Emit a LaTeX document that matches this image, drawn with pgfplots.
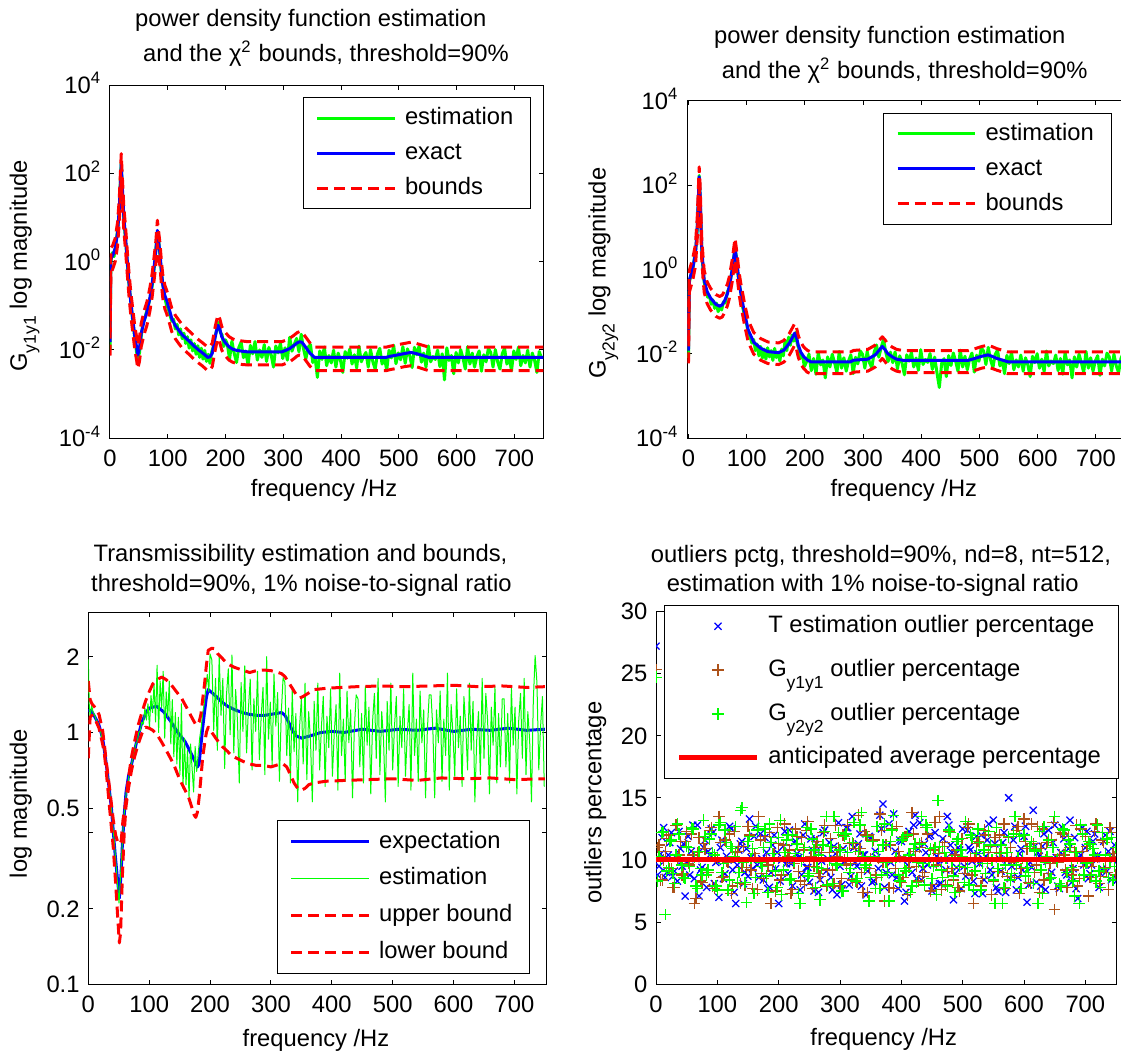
\documentclass[border=0pt]{standalone}
\usepackage{pgfplots}
\pgfplotsset{compat=1.18}
\usepackage{pgfplotstable}
\usepackage{fontspec}
\setmainfont{Liberation Sans}
\definecolor{mgreen}{rgb}{0,1,0}
\definecolor{mblue}{rgb}{0,0,1}
\definecolor{mred}{rgb}{1,0,0}
\definecolor{mbrown}{rgb}{0.68,0.32,0.1}
\newcommand{\fs}{\fontsize{9.5}{11}\selectfont}
\newcommand{\Gsub}[2][3.6pt]{G\raisebox{-#1}{\fontsize{7}{8}\selectfont #2}}

\pgfplotsset{
  mstyle/.style={
    scale only axis,
    tick align=inside, tick pos=both,
    major tick length=1.8pt, minor tick length=0pt,
    axis line style={line width=0.4pt},
    every tick/.append style={black,line width=0.4pt},
    tick label style={font=\fs, inner sep=0pt},
    xticklabel style={anchor=base, yshift=-11.4pt},
    yticklabel style={anchor=base east, xshift=-3.3pt, yshift=-3.4pt},
    /pgf/number format/assume math mode=true,
    label style={font=\fs, inner sep=0pt},
    xlabel={frequency /Hz},
    xtick={0,100,...,700},
    legend cell align=left,
    legend image code/.code={\draw[mark repeat=2,mark phase=2,##1] plot coordinates {(0pt,0pt) (15.5pt,0pt) (31pt,0pt)};},
    legend style={font=\fs, draw=black, line width=0.4pt, fill=white, inner xsep=5pt, inner ysep=1.8pt, row sep=1pt, column sep=1.6pt, nodes={inner sep=2pt, text height=7pt, text depth=2pt}},
  },
  gline/.style={mgreen, line width=1.2pt, line join=round},
  bline/.style={mblue, line width=1.2pt, line join=round},
  rline/.style={mred, line width=1.2pt, line join=round, dash pattern=on 4.4pt off 2.4pt},
  tmark/.style={only marks, mark=x, mark size=2pt, mblue, mark options={line width=0.5pt}},
  g1mark/.style={only marks, mark=+, mark size=2.3pt, mbrown, mark options={line width=0.5pt}},
  g2mark/.style={only marks, mark=+, mark size=2.3pt, mgreen, mark options={line width=0.55pt}},
}

\pgfplotstableread{
f ex up lo
0 0.015 0.025 0.0075
1.5 1.17 2.0 0.55
5 1.4 2.38 0.7
9 2.0 3.4 1.0
13 4.5 7.65 2.25
16 15 25.5 7.5
18 60 102 30
19.5 164 279 82
21 60 102 30
24 10 17 5
27 3.5 5.95 1.75
30 1.0 1.7 0.5
33 0.32 0.544 0.16
36 0.12 0.204 0.06
39 0.056 0.095 0.028
43 0.02 0.034 0.01
46 0.0118 0.02 0.0059
48 0.0076 0.0129 0.0038
51 0.011 0.0187 0.0055
54 0.0236 0.04 0.0118
59 0.045 0.0765 0.0225
64 0.073 0.124 0.0365
69 0.15 0.255 0.075
73 0.32 0.544 0.16
77 0.9 1.53 0.45
79.5 1.8 3.06 0.9
82 5.1 8.67 2.55
84 3.0 5.1 1.5
86.6 1.5 2.55 0.75
89 0.6 1.02 0.3
91.5 0.29 0.493 0.145
95 0.17 0.289 0.085
98 0.134 0.228 0.067
103 0.08 0.136 0.04
107 0.0515 0.0876 0.0258
113 0.036 0.0612 0.018
119 0.028 0.0476 0.014
125 0.022 0.0374 0.011
132 0.0182 0.0309 0.0091
140 0.0145 0.0247 0.0073
147 0.0118 0.0201 0.0059
153 0.0101 0.0172 0.0051
159.5 0.0087 0.0148 0.0044
165 0.0076 0.0129 0.0038
169 0.0068 0.0116 0.0034
173 0.0070 0.0119 0.0035
177 0.0084 0.0143 0.0042
181 0.0167 0.0284 0.0084
184 0.026 0.0442 0.013
187 0.0364 0.0619 0.0182
190 0.030 0.051 0.015
193.5 0.0198 0.0337 0.0099
199 0.0150 0.0255 0.0075
206 0.0118 0.0201 0.0059
212 0.0105 0.0179 0.0053
218 0.0099 0.0168 0.005
228 0.0094 0.016 0.0047
237 0.0091 0.0155 0.0046
298 0.0091 0.0155 0.0046
305 0.0099 0.0168 0.005
311 0.0108 0.0184 0.0054
318 0.0125 0.0213 0.0063
324 0.0145 0.0247 0.0073
328 0.0153 0.026 0.0077
332 0.0150 0.0255 0.0075
336 0.0129 0.0219 0.0065
341 0.0105 0.0179 0.0053
346 0.0085 0.0145 0.0043
350 0.0076 0.0129 0.0038
354 0.0068 0.0116 0.0034
478 0.0068 0.0116 0.0034
485 0.0072 0.0122 0.0036
495 0.0076 0.0129 0.0038
510 0.0083 0.0141 0.0042
521 0.0088 0.015 0.0044
530 0.0083 0.0141 0.0042
540 0.0076 0.0129 0.0038
552 0.0068 0.0116 0.0034
750 0.0068 0.0116 0.0034
}\TLex

\pgfplotstableread{
f g
0 0.01
1.5 1.0
4 1.6
7 1.3
10 2.5
13 5
16 13
18 70
19.5 180
21 50
24 9
27 3
30 0.9
33 0.3
36 0.13
39 0.05
43 0.018
46 0.009
48 0.0065
51 0.0085
54 0.02
57 0.04
60 0.05
64 0.08
69 0.14
73 0.28
77 0.8
79.5 2.0
82 4.8
84 3.4
86.6 1.3
89 0.55
91.5 0.3
95 0.15
98 0.1
101 0.085
104 0.06
107 0.045
110 0.05
113 0.03
116 0.038
119 0.022
122 0.03
125 0.018
128 0.024
131 0.014
134 0.02
137 0.011
140 0.017
143 0.0095
146 0.014
149 0.008
152 0.0125
155 0.0068
158 0.011
161 0.0062
164 0.0098
167 0.0055
170 0.008
173 0.005
176 0.009
179 0.012
182 0.02
185 0.03
188 0.042
191 0.025
194 0.022
197 0.012
200 0.017
203 0.0137
}\TLg

\pgfplotstableread{
f ex up lo
0 0.012 0.02 0.006
1.5 0.56 0.95 0.29
7.4 1.1 1.87 0.57
12 2.3 3.9 1.2
15 10 17 5.2
17 50 85 26
18.4 158 270 82
20 60 102 31
22.7 3.5 6 1.8
25 1.2 2.04 0.62
27 0.56 0.95 0.29
32 0.30 0.51 0.156
38 0.21 0.357 0.109
47 0.15 0.255 0.078
53.5 0.135 0.23 0.07
58 0.145 0.247 0.075
62.7 0.19 0.323 0.099
67 0.27 0.46 0.14
70 0.39 0.66 0.2
75 0.97 1.65 0.5
78 2.0 3.4 1.04
80 3.2 5.44 1.66
82 2.0 3.4 1.04
84 1.17 1.99 0.61
87 0.5 0.85 0.26
90 0.27 0.46 0.14
96.5 0.09 0.153 0.047
102.6 0.037 0.063 0.0192
112 0.019 0.0323 0.0099
124 0.0136 0.0231 0.0071
136.5 0.0113 0.0192 0.0059
155 0.0107 0.0182 0.0056
164 0.0123 0.0209 0.0064
173 0.0177 0.0301 0.0092
179 0.025 0.0425 0.013
182.5 0.031 0.0527 0.0161
185.5 0.025 0.0425 0.013
188.7 0.016 0.0272 0.0083
193 0.011 0.0187 0.0057
198 0.0086 0.0146 0.0045
204 0.0072 0.0122 0.0037
210 0.0065 0.0111 0.0034
278 0.0065 0.0111 0.0034
284 0.0071 0.0121 0.0037
308 0.0075 0.0128 0.0039
321 0.0095 0.0162 0.0049
327 0.012 0.0204 0.0062
333 0.015 0.0255 0.0078
338 0.0125 0.0213 0.0065
342 0.0103 0.0175 0.0054
350 0.0085 0.0145 0.0044
357.6 0.0075 0.0128 0.0039
370 0.007 0.0119 0.0036
480 0.007 0.0119 0.0036
493 0.0079 0.0134 0.0041
504 0.0088 0.015 0.0046
514.6 0.0095 0.0162 0.0049
522 0.0087 0.0148 0.0045
530 0.0078 0.0133 0.0041
549 0.0065 0.0111 0.0034
750 0.0065 0.0111 0.0034
}\TRex

\pgfplotstableread{
f g
0 0.008
1.5 0.5
4 0.7
7 0.9
10 1.8
13 3.5
15 9
17 45
18.4 170
20 55
22.7 3.2
25 1.0
27 0.5
30 0.33
33 0.22
36 0.24
39 0.15
42 0.19
45 0.12
48 0.16
51 0.1
54 0.14
57 0.11
60 0.17
63 0.16
67 0.3
70 0.35
75 1.0
78 2.1
80 3.0
82 2.2
84 1.0
87 0.45
90 0.3
93 0.13
96.5 0.08
100 0.05
103 0.03
106 0.025
109 0.018
112 0.022
115 0.012
118 0.017
121 0.009
124 0.015
127 0.008
130 0.013
133 0.0075
136 0.014
139 0.0085
142 0.012
145 0.007
148 0.0135
151 0.0082
154 0.011
157 0.0068
160 0.013
163 0.009
166 0.021
169 0.012
172 0.025
175 0.016
178 0.028
181 0.02
184 0.032
187 0.017
190 0.013
193 0.008
196 0.0095
199 0.005
203 0.0065
}\TRg

\pgfplotstableread{
f ex
0 1.22
5 1.22
11.8 1.14
17 1.08
23.5 0.95
28 0.8
32 0.67
38 0.5
44 0.33
48 0.26
51 0.22
54 0.28
56 0.36
59 0.47
62 0.58
66 0.67
70.6 0.74
79.4 0.92
88 1.1
95 1.2
100 1.25
112 1.27
123.5 1.21
135 1.11
147 1.0
159 0.92
170.6 0.81
179.4 0.73
182 0.75
185 0.89
188 1.05
191 1.21
194 1.38
197 1.48
206 1.42
218 1.33
229 1.27
241 1.23
253 1.2
265 1.18
276 1.17
290 1.17
300 1.18
317.6 1.2
323 1.17
329 1.1
335 1.02
341 0.97
350 0.95
358 0.96
365 0.97
382 1.0
400 1.01
420 1.0
450 1.03
480 1.01
510 1.03
540 1.02
570 1.04
600 1.01
630 1.03
660 1.02
690 1.04
720 1.02
750 1.03
}\BLex

\pgfplotstableread{
f up
0 1.6
3 1.35
6 1.3
11.8 1.25
17.6 1.18
23.5 1.02
26.5 0.89
30 0.75
35 0.6
41 0.45
45 0.39
48 0.37
51 0.36
54 0.37
57 0.45
62 0.54
66 0.66
70.6 0.79
76 0.92
82 1.07
88 1.2
94 1.33
100 1.45
106 1.56
113 1.62
120.6 1.66
128 1.62
135 1.56
144 1.46
153 1.37
162 1.25
170.6 1.14
176 1.08
179 1.07
182 1.1
185 1.18
188 1.36
191 1.56
194 1.85
197 2.12
203 2.16
208 2.15
212 2.06
220 1.97
229 1.87
241 1.81
253 1.77
265 1.73
276 1.76
288 1.77
300 1.76
312 1.73
318 1.71
323.5 1.66
329 1.58
335 1.5
341 1.42
347 1.37
353 1.39
359 1.42
365 1.45
370.6 1.48
394 1.5
441 1.52
480 1.53
520 1.52
560 1.53
600 1.54
640 1.52
680 1.53
720 1.51
750 1.52
}\BLup

\pgfplotstableread{
f lo
0 0.79
3 1.15
6 1.17
11.8 1.12
17.6 1.04
23.5 0.9
26.5 0.82
30 0.68
35 0.5
41 0.35
45 0.25
48 0.19
51 0.146
53 0.16
56 0.27
59 0.4
62 0.51
66 0.6
70.6 0.7
76 0.8
82 0.9
88 0.99
94 1.05
100 1.04
106 1.02
113 0.98
120 0.92
128 0.85
135 0.79
141 0.74
147 0.68
153 0.63
159 0.59
165 0.55
170.6 0.5
174 0.47
176.5 0.46
179 0.48
182 0.55
185 0.66
188 0.8
191 0.9
194 1.0
197 1.05
203 1.0
212 0.93
220 0.88
229 0.84
235 0.81
253 0.77
265 0.75
276 0.74
288 0.74
300 0.73
312 0.745
320 0.75
326 0.73
332 0.68
338 0.63
344 0.6
350 0.59
356 0.6
362 0.62
370 0.63
390 0.64
420 0.645
460 0.65
500 0.655
540 0.645
580 0.66
620 0.655
660 0.66
700 0.65
750 0.655
}\BLlo

\pgfplotstableread{
f g
0 1.95
1.5 1.3
3 1.15
5.5 1.28
8 1.2
10.5 1.17
13 1.12
15.5 1.1
18 1.05
20.5 1.0
23 0.93
25.5 0.87
28 0.8
30.5 0.72
33 0.64
35.5 0.57
38 0.5
40.5 0.42
43 0.36
45.5 0.3
48 0.25
50.5 0.21
53 0.27
55.5 0.35
58 0.45
60.5 0.52
63 0.6
65.5 0.64
68 0.7
70.5 0.73
73 0.8
75.5 0.84
78 0.9
80.5 0.92
83 1.0
85.5 1.02
88 1.1
90.5 1.08
93 1.25
95.5 1.12
98 1.3
100.5 1.05
103 1.4
105.5 1.2
108 1.55
110.5 1.1
113 1.85
115.5 1.0
118 1.6
120.5 1.25
123 1.75
125.5 0.95
128 1.45
130.5 1.15
133 1.6
135.5 0.9
138 1.35
140.5 0.8
143 1.2
145.5 0.75
148 1.15
150.5 0.68
153 1.3
155.5 0.6
158 0.95
160.5 0.62
163 0.85
165.5 0.55
168 0.9
170.5 0.72
173 0.58
175.5 0.88
178 0.7
180.5 0.82
183 0.95
185.5 1.05
188 1.2
190.5 1.3
193 1.5
195.5 1.7
198 1.45
200 2.05
203 1.94
}\BLg

\begin{document}
\begin{tikzpicture}
\useasboundingbox (0,0) rectangle (448.4pt,421.2pt);

%% ---------------- top left ----------------
\begin{axis}[mstyle, at={(44pt,245.88pt)}, anchor=south west,
  width=173.32pt, height=141.32pt,
  xmin=0, xmax=750, ymode=log, ymin=1e-4, ymax=1e4, yminorticks=false,
  ytick={1e-4,1e-2,1,1e2,1e4},
  yticklabels={10\textsuperscript{-4},10\textsuperscript{-2},10\textsuperscript{0},10\textsuperscript{2},10\textsuperscript{4}},
  xlabel style={at={(axis description cs:0.494,-0.1633)}, anchor=base},
  ylabel={\Gsub{y1y1} log magnitude},
  ylabel style={at={(axis description cs:-0.192,0.488)}, anchor=base},
  legend style={at={(axis description cs:1,1)}, anchor=north east, xshift=-4.8pt, yshift=-4.7pt},
]
\addplot[gline] table[x=f,y=g] {\TLg};
\addlegendentry{estimation}
\addplot[gline, forget plot] table[header=false, row sep=\\, x expr=203+4*\coordindex, y index=0] {
0.0137\\0.0063\\0.0158\\0.0084\\0.0052\\0.0114\\0.0152\\0.0067\\0.0095\\
0.0046\\0.0127\\0.0082\\0.0155\\0.0059\\0.0100\\0.0068\\0.0132\\0.0055\\0.0114\\0.0077\\0.0041\\0.0123\\0.0086\\0.0141\\
0.0064\\0.0112\\0.0059\\0.0194\\0.0094\\0.0134\\0.0183\\0.0091\\0.0227\\0.0106\\0.0062\\0.0115\\0.0133\\0.0052\\
0.0068\\0.0024\\0.0095\\0.0061\\0.0116\\0.0044\\0.0075\\0.0051\\0.0099\\0.0041\\0.0085\\0.0058\\0.0031\\0.0092\\0.0065\\0.0105\\
0.0048\\0.0078\\0.0039\\0.0122\\0.0054\\0.0071\\0.0088\\0.0041\\0.0102\\0.0054\\0.0037\\0.0082\\0.0109\\0.0048\\0.0068\\
0.0035\\0.0099\\0.0066\\0.0128\\0.0049\\0.0086\\0.0060\\0.0119\\0.0050\\0.0106\\0.0074\\0.0040\\0.0115\\0.0078\\0.0122\\
0.0053\\0.0085\\0.0041\\0.0124\\0.0054\\0.0071\\
0.0061\\0.0099\\0.0042\\0.0082\\0.0021\\0.0112\\0.0058\\0.0075\\0.0029\\0.0088\\0.0051\\0.0102\\0.0065\\0.0037\\0.0119\\
0.0048\\0.0085\\0.0041\\0.0071\\0.0095\\0.0033\\0.0078\\0.0054\\0.0109\\0.0088\\0.0041\\0.0102\\0.0054\\0.0037\\0.0082\\
0.0109\\0.0048\\0.0068\\0.0034\\0.0095\\0.0061\\0.0116\\0.0044\\0.0075\\0.0051\\0.0099\\0.0041\\0.0085\\0.0058\\0.0031\\
0.0092\\0.0065\\
};
\addplot[bline] table[x=f,y=ex] {\TLex};
\addlegendentry{exact}
\addplot[rline] table[x=f,y=up] {\TLex};
\addlegendentry{bounds}
\addplot[rline, forget plot] table[x=f,y=lo] {\TLex};
\end{axis}

%% ---------------- top right ----------------
\begin{axis}[mstyle, at={(274.92pt,245.88pt)}, anchor=south west,
  width=175.08pt, height=135.04pt,
  xmin=-2, xmax=750, ymode=log, ymin=1e-4, ymax=1e4, yminorticks=false,
  ytick={1e-4,1e-2,1,1e2,1e4},
  yticklabels={10\textsuperscript{-4},10\textsuperscript{-2},10\textsuperscript{0},10\textsuperscript{2},10\textsuperscript{4}},
  xlabel style={at={(axis description cs:0.4946,-0.1709)}, anchor=base},
  ylabel={\Gsub{y2y2} log magnitude},
  ylabel style={at={(axis description cs:-0.1864,0.489)}, anchor=base},
  legend style={at={(axis description cs:1,1)}, anchor=north east, xshift=-5.3pt, yshift=-4.8pt},
]
\addplot[gline] table[x=f,y=g] {\TRg};
\addlegendentry{estimation}
\addplot[gline, forget plot] table[header=false, row sep=\\, x expr=203+4*\coordindex, y index=0] {
0.0065\\0.0099\\
0.0040\\0.0078\\0.0033\\0.0107\\0.0055\\0.0072\\0.0027\\0.0085\\0.0049\\0.0098\\0.0062\\0.0036\\0.0114\\0.0046\\0.0081\\0.0039\\0.0068\\
0.0095\\0.0034\\0.0083\\0.0058\\0.0118\\0.0098\\0.0046\\
0.0114\\0.0062\\0.0047\\0.0110\\0.0163\\0.0084\\0.0140\\0.0220\\0.0108\\0.0066\\0.0110\\
0.0062\\0.0112\\0.0044\\0.0090\\
0.0060\\0.0032\\0.0095\\0.0067\\0.0109\\0.0049\\0.0080\\0.0041\\0.0126\\0.0056\\0.0074\\0.0063\\0.0102\\0.0043\\0.0084\\0.0035\\
0.0016\\0.0060\\0.0077\\0.0029\\0.0091\\0.0053\\0.0105\\0.0067\\0.0039\\0.0123\\0.0049\\0.0088\\
0.0042\\0.0076\\0.0105\\0.0037\\0.0093\\0.0067\\0.0139\\0.0117\\0.0056\\0.0143\\0.0073\\0.0047\\0.0098\\0.0123\\0.0052\\
0.0071\\0.0034\\0.0092\\
0.0059\\0.0110\\0.0042\\0.0072\\0.0049\\0.0094\\0.0039\\0.0081\\0.0055\\0.0029\\0.0088\\0.0062\\0.0101\\0.0046\\0.0075\\
0.0038\\0.0117\\0.0052\\0.0068\\0.0059\\0.0094\\0.0040\\0.0078\\0.0033\\0.0107\\0.0055\\0.0072\\0.0027\\0.0085\\0.0049\\
0.0098\\0.0062\\0.0036\\0.0114\\0.0046\\0.0081\\0.0039\\0.0068\\0.0091\\0.0031\\0.0075\\0.0052\\0.0104\\0.0085\\0.0039\\
0.0098\\0.0052\\0.0036\\0.0078\\0.0104\\
};
\addplot[bline] table[x=f,y=ex] {\TRex};
\addlegendentry{exact}
\addplot[rline] table[x=f,y=up] {\TRex};
\addlegendentry{bounds}
\addplot[rline, forget plot] table[x=f,y=lo] {\TRex};
\end{axis}

%% ---------------- bottom left ----------------
\begin{axis}[mstyle, at={(35.32pt,27.48pt)}, anchor=south west,
  width=183.36pt, height=148.8pt,
  xmin=0, xmax=753, ymode=log, ymin=0.1, ymax=3, yminorticks=false,
  ytick={0.1,0.2,0.4,0.5,1,2},
  yticklabels={0.1,0.2,{},0.5,1,2},
  xlabel style={at={(axis description cs:0.4967,-0.166)}, anchor=base},
  ylabel={log magnitude},
  ylabel style={at={(axis description cs:-0.134,0.486)}, anchor=base},
  legend style={at={(axis description cs:1,0)}, anchor=south east, xshift=-6.5pt, yshift=4.24pt, row sep=1.7pt, inner ysep=1.9pt},
]
\addplot[bline] table[x=f,y=ex] {\BLex};
\addlegendentry{expectation}
\addplot[mgreen, line width=0.4pt, line join=round] table[x=f,y=g] {\BLg};
\addlegendentry{estimation}
\addplot[mgreen, line width=0.4pt, line join=round, forget plot] table[header=false, row sep=\\, x expr=203+3*\coordindex, y index=0] {
1.94\\1.02\\1.64\\0.85\\2.03\\1.17\\1.64\\0.72\\1.41\\
1.79\\0.98\\2.03\\0.83\\1.48\\1.12\\0.63\\1.58\\1.01\\1.84\\0.83\\1.24\\
1.63\\0.71\\1.36\\1.01\\1.75\\0.78\\1.16\\1.51\\0.68\\2.0\\0.94\\1.32\\0.74\\1.71\\1.06\\1.44\\0.64\\1.2\\1.65\\
1.58\\0.81\\1.25\\0.63\\1.47\\0.84\\1.19\\0.53\\1.05\\1.36\\0.75\\1.57\\0.65\\
1.21\\0.93\\0.53\\1.33\\0.85\\1.57\\0.71\\1.06\\1.39\\0.61\\1.16\\0.87\\1.49\\0.67\\0.99\\1.29\\0.59\\1.72\\0.81\\1.13\\
0.64\\1.46\\0.91\\1.23\\0.55\\1.03\\1.41\\
1.36\\0.73\\1.19\\0.63\\1.52\\0.89\\1.26\\0.57\\1.11\\1.43\\0.79\\1.64\\0.68\\1.21\\0.93\\0.53\\1.33\\0.85\\1.57\\0.71\\
1.06\\1.39\\0.61\\1.16\\0.87\\1.49\\0.67\\0.99\\1.29\\0.59\\1.72\\0.81\\1.13\\0.64\\1.46\\0.91\\1.23\\0.55\\1.03\\1.41\\
1.41\\1.03\\0.55\\1.23\\0.91\\1.46\\0.64\\1.13\\0.81\\1.72\\0.59\\1.29\\0.99\\0.67\\1.49\\0.87\\1.16\\0.61\\1.39\\1.06\\
0.71\\1.57\\0.85\\1.33\\0.53\\0.93\\1.21\\0.68\\1.64\\0.79\\1.43\\1.11\\0.57\\1.26\\0.89\\1.52\\0.63\\1.19\\0.73\\1.36\\
1.36\\0.73\\1.19\\0.63\\1.52\\0.89\\1.26\\0.57\\1.11\\1.43\\0.79\\1.64\\0.68\\1.21\\0.93\\0.53\\1.33\\2.02\\1.57\\0.71\\
1.06\\1.39\\0.61\\
};
\addplot[rline] table[x=f,y=up] {\BLup};
\addlegendentry{upper bound}
\addplot[rline] table[x=f,y=lo] {\BLlo};
\addlegendentry{lower bound}
\end{axis}

%% ---------------- bottom right ----------------
\begin{axis}[mstyle, at={(262.4pt,27.48pt)}, anchor=south west,
  width=184pt, height=149.2pt, clip marker paths=true,
  xmin=0, xmax=750, ymin=0, ymax=30, ytick={0,5,...,30},
  xlabel style={at={(axis description cs:0.495,-0.165)}, anchor=base},
  ylabel={outliers percentage},
  ylabel style={at={(axis description cs:-0.119,0.487)}, anchor=base},
  legend style={at={(axis description cs:0,1)}, anchor=north west, xshift=3.1pt, yshift=2.6pt, row sep=4.5pt, inner ysep=1.9pt},
]
\addplot[tmark] table[header=false, row sep=\\, x expr=5*\coordindex, y index=0] {
27.2\\9.5\\11.8\\8.6\\10.4\\12.2\\9.1\\8.3\\10.9\\11.3\\
9.8\\8.8\\12.8\\10.1\\7.1\\9.4\\11.6\\10.7\\12.5\\8.1\\
9.9\\11.0\\8.5\\10.3\\12.7\\9.2\\6.5\\10.8\\11.5\\9.0\\
8.7\\10.2\\11.9\\9.6\\12.1\\8.4\\10.6\\7.8\\11.2\\9.3\\
6.5\\10.0\\12.3\\8.9\\9.7\\11.4\\10.5\\7.6\\12.0\\9.4\\
8.2\\10.8\\11.7\\7.4\\9.9\\12.4\\10.1\\8.6\\11.1\\7.2\\
9.5\\10.9\\12.6\\8.0\\13.5\\9.8\\11.3\\7.9\\10.4\\9.1\\
11.8\\8.3\\10.2\\13.6\\14.5\\9.0\\12.9\\8.8\\10.7\\7.7\\
11.5\\6.7\\9.6\\10.3\\12.8\\8.5\\13.0\\9.3\\10.6\\11.9\\
7.5\\12.2\\9.7\\8.1\\10.0\\13.5\\11.2\\6.8\\9.4\\10.8\\
12.5\\8.7\\11.0\\9.9\\7.3\\10.5\\12.0\\8.4\\11.6\\9.2\\
13.2\\7.8\\10.1\\11.4\\7.4\\15.0\\9.5\\12.7\\8.6\\10.9\\
11.9\\6.6\\9.8\\14.0\\8.2\\10.3\\11.1\\7.6\\12.4\\9.0\\
12.8\\7.9\\10.6\\11.7\\8.8\\13.2\\9.3\\7.7\\10.2\\12.6\\
11.0\\8.5\\9.6\\12.1\\10.4\\8.9\\11.5\\9.1\\12.3\\10.0\\
8.3\\
};
\addlegendentry{T estimation outlier percentage}
\addplot[tmark, forget plot] table[header=false, row sep=\\, x expr=2.5+5*\coordindex, y index=0] {
8.8\\
10.5\\12.6\\9.0\\11.4\\8.7\\10.2\\12.3\\9.5\\7.1\\11.9\\
10.7\\8.5\\12.8\\9.2\\11.0\\7.8\\10.4\\12.2\\9.8\\7.0\\
11.6\\8.9\\10.0\\12.5\\7.4\\9.6\\11.3\\8.1\\10.9\\13.3\\
9.3\\12.7\\8.6\\10.1\\11.8\\7.7\\9.0\\12.0\\10.6\\8.3\\
11.1\\9.7\\12.4\\7.9\\11.5\\10.2\\8.8\\12.9\\9.4\\11.7\\
7.5\\10.8\\8.4\\12.2\\9.1\\11.4\\7.6\\10.5\\13.0\\8.0\\
9.9\\12.6\\8.7\\11.0\\9.5\\12.1\\10.4\\7.2\\11.9\\8.2\\
10.7\\9.3\\12.5\\7.8\\11.2\\9.8\\13.7\\8.6\\11.6\\10.1\\
7.4\\12.3\\9.0\\13.6\\10.9\\8.4\\11.3\\9.6\\12.0\\7.9\\
10.3\\8.1\\11.7\\9.2\\12.8\\10.6\\8.9\\11.0\\7.7\\9.5\\
12.4\\10.8\\8.3\\11.9\\9.7\\7.3\\10.3\\12.9\\8.8\\11.3\\
7.5\\9.1\\12.2\\10.0\\8.5\\11.6\\7.6\\10.5\\9.2\\12.7\\
8.0\\9.4\\11.1\\10.6\\7.9\\12.1\\9.9\\8.7\\11.4\\10.2\\
7.7\\12.6\\9.0\\10.9\\8.2\\11.8\\6.9\\10.4\\9.6\\12.3\\
8.9\\11.5\\10.1\\7.8\\9.3\\12.0\\10.7\\8.4\\11.2\\
};
\addplot[g1mark] table[header=false, row sep=\\, x expr=5*\coordindex, y index=0] {
25.3\\11.2\\8.4\\10.7\\12.0\\9.3\\7.8\\10.1\\11.5\\8.9\\
12.3\\9.6\\10.4\\6.9\\11.8\\8.2\\10.9\\9.0\\12.6\\7.7\\
10.2\\11.4\\8.7\\9.9\\12.1\\7.9\\10.6\\11.1\\9.4\\8.0\\
12.7\\9.2\\10.5\\7.6\\11.6\\8.5\\10.0\\12.2\\9.1\\7.5\\
11.3\\8.8\\12.9\\10.3\\7.3\\9.7\\11.9\\8.3\\10.8\\12.4\\
9.5\\7.7\\11.0\\8.9\\10.6\\12.8\\9.2\\11.7\\8.1\\10.3\\
7.9\\12.0\\9.6\\11.3\\8.4\\10.9\\13.6\\9.0\\12.3\\7.4\\
10.1\\11.6\\8.6\\13.7\\9.8\\11.2\\7.8\\12.5\\9.3\\10.7\\
8.2\\11.9\\7.2\\10.4\\12.1\\9.5\\11.0\\8.7\\12.6\\9.9\\
8.0\\13.0\\10.5\\7.6\\11.4\\9.1\\12.2\\8.4\\10.8\\7.5\\
11.7\\9.4\\12.9\\8.8\\10.2\\11.5\\7.9\\12.4\\9.7\\11.1\\
8.3\\10.6\\12.0\\9.0\\7.7\\11.8\\10.1\\8.6\\12.7\\9.3\\
13.3\\10.9\\8.1\\11.3\\9.6\\7.4\\12.5\\10.0\\8.9\\11.6\\
6.0\\9.8\\12.2\\10.4\\7.8\\11.0\\9.2\\12.8\\8.5\\10.7\\
11.9\\7.1\\9.5\\12.3\\10.2\\8.7\\11.4\\9.0\\12.6\\10.5\\
8.8\\
};
\addlegendentry{\Gsub[5pt]{y1y1}\ outlier percentage}
\addplot[g1mark, forget plot] table[header=false, row sep=\\, x expr=2.5+5*\coordindex, y index=0] {
11.0\\
8.4\\10.0\\11.7\\9.3\\7.8\\12.8\\10.4\\8.8\\11.5\\9.7\\
12.1\\6.5\\10.6\\8.3\\11.3\\9.0\\12.4\\7.9\\10.1\\13.5\\
8.6\\11.6\\9.8\\7.3\\12.3\\10.7\\8.1\\11.1\\9.4\\12.0\\
7.7\\10.2\\13.5\\8.9\\11.9\\9.6\\6.5\\10.5\\12.6\\8.4\\
11.2\\9.9\\10.8\\7.6\\12.5\\9.1\\11.8\\8.0\\13.1\\10.3\\
9.5\\11.5\\8.7\\12.2\\7.9\\10.6\\9.2\\12.8\\11.0\\8.5\\
10.0\\12.8\\9.7\\11.3\\8.2\\10.9\\7.4\\12.0\\9.3\\11.6\\
8.8\\10.1\\12.4\\6.7\\9.8\\11.2\\7.7\\12.7\\10.3\\8.6\\
11.9\\9.4\\13.8\\10.7\\8.3\\11.4\\9.0\\12.1\\7.5\\10.8\\
9.6\\13.5\\11.1\\8.0\\12.3\\9.3\\10.4\\7.8\\11.7\\8.9\\
12.6\\10.2\\6.5\\11.3\\9.9\\8.5\\12.0\\10.6\\7.2\\11.8\\
9.1\\10.5\\12.9\\8.7\\11.0\\9.8\\12.4\\7.3\\10.1\\11.5\\
8.2\\12.9\\9.0\\12.7\\10.9\\8.4\\11.4\\9.7\\13.0\\7.6\\
10.4\\12.1\\9.2\\11.9\\8.8\\10.7\\7.9\\12.5\\9.5\\11.1\\
8.6\\10.0\\12.9\\8.1\\11.6\\9.4\\7.6\\12.2\\10.3\\
};
\addplot[g2mark] table[header=false, row sep=\\, x expr=5*\coordindex, y index=0] {
24.7\\10.3\\12.2\\5.6\\9.4\\11.6\\8.1\\12.9\\10.0\\8.6\\
11.1\\9.5\\12.5\\7.9\\10.7\\8.8\\11.9\\9.2\\12.1\\10.4\\
7.6\\13.0\\9.7\\11.4\\8.4\\10.9\\12.7\\9.0\\14.2\\8.2\\
11.5\\10.1\\7.3\\12.4\\9.8\\11.0\\8.7\\12.9\\10.5\\9.1\\
11.8\\7.2\\10.6\\12.0\\8.5\\9.9\\11.3\\6.5\\10.2\\12.6\\
8.9\\11.7\\7.8\\10.4\\9.3\\12.3\\8.0\\11.1\\13.5\\9.6\\
10.8\\7.5\\12.1\\9.0\\11.4\\8.3\\10.7\\13.8\\9.4\\11.9\\
8.6\\10.3\\12.7\\7.7\\11.2\\9.8\\6.7\\12.4\\10.1\\8.8\\
11.6\\9.3\\12.0\\7.4\\10.9\\8.2\\11.3\\9.7\\12.8\\10.0\\
8.5\\11.0\\14.8\\9.2\\10.6\\7.9\\12.2\\8.7\\11.5\\9.5\\
10.3\\13.1\\8.0\\11.8\\9.1\\12.5\\7.6\\10.8\\9.9\\11.2\\
8.4\\12.6\\10.5\\6.5\\9.6\\11.9\\8.9\\13.5\\10.2\\7.7\\
12.0\\9.4\\11.1\\8.1\\10.7\\12.3\\7.3\\9.8\\11.6\\8.6\\
13.5\\10.1\\7.9\\12.4\\9.0\\11.3\\8.3\\10.6\\6.5\\12.1\\
9.7\\11.5\\8.8\\10.4\\12.8\\7.8\\9.3\\11.7\\10.0\\8.4\\
11.0\\
};
\addlegendentry{\Gsub[5pt]{y2y2}\ outlier percentage}
\addplot[g2mark, forget plot] table[header=false, row sep=\\, x expr=2.5+5*\coordindex, y index=0] {
8.3\\
10.0\\12.3\\9.1\\11.5\\8.9\\10.4\\12.1\\9.6\\8.5\\11.0\\
12.6\\10.2\\7.7\\9.3\\13.2\\8.8\\11.7\\10.6\\7.9\\12.8\\
9.0\\12.4\\7.6\\11.1\\10.3\\8.2\\14.0\\9.8\\6.6\\11.9\\
10.9\\8.6\\12.7\\9.5\\12.5\\7.4\\11.4\\10.1\\7.8\\13.2\\
9.2\\11.6\\8.4\\12.0\\10.5\\7.3\\9.9\\11.0\\8.7\\12.5\\
10.8\\9.4\\6.8\\11.2\\13.5\\10.0\\8.1\\9.7\\12.2\\7.5\\
11.9\\10.6\\9.3\\13.0\\8.5\\12.8\\10.3\\9.6\\6.7\\11.5\\
7.7\\10.7\\8.8\\12.9\\9.0\\11.5\\13.6\\10.2\\8.3\\11.8\\
9.1\\10.4\\7.9\\11.3\\9.8\\13.5\\8.0\\12.6\\10.9\\9.5\\
7.2\\11.1\\8.6\\10.1\\12.4\\9.9\\7.4\\11.7\\10.8\\8.2\\
9.4\\12.0\\7.6\\10.5\\11.4\\9.7\\8.9\\12.3\\10.0\\6.5\\
9.3\\11.2\\7.8\\10.6\\8.4\\12.1\\9.6\\11.9\\10.2\\8.7\\
9.0\\11.5\\10.8\\6.5\\9.2\\12.7\\10.3\\8.5\\11.0\\9.9\\
8.1\\12.5\\10.7\\11.6\\9.4\\7.1\\10.1\\12.8\\8.8\\9.8\\
11.3\\10.9\\8.3\\9.1\\12.2\\10.4\\8.6\\11.8\\9.5\\
};
\addplot[mred, line width=2pt] coordinates {(0,10) (750,10)};
\addlegendentry{anticipated average percentage}
\end{axis}

%% ---------------- titles ----------------
\begin{scope}[every node/.style={anchor=base, inner sep=0pt, font=\fs}]
\node at (124.28pt,410.52pt) {power density function estimation};
\node at (130.4pt,396.52pt) {and the χ\textsuperscript{2} bounds, threshold=90\%};
\node at (355.92pt,403.88pt) {power density function estimation};
\node at (361.84pt,389.6pt) {and the χ\textsuperscript{2} bounds, threshold=90\%};
\node at (120.2pt,196.52pt) {Transmissibility estimation and bounds,};
\node at (120.56pt,184.76pt) {threshold=90\%, 1\% noise-to-signal ratio};
\node at (352.4pt,196.4pt) {outliers pctg, threshold=90\%, nd=8, nt=512,};
\node at (349.08pt,184.76pt) {estimation with 1\% noise-to-signal ratio};
\end{scope}
\end{tikzpicture}
\end{document}
